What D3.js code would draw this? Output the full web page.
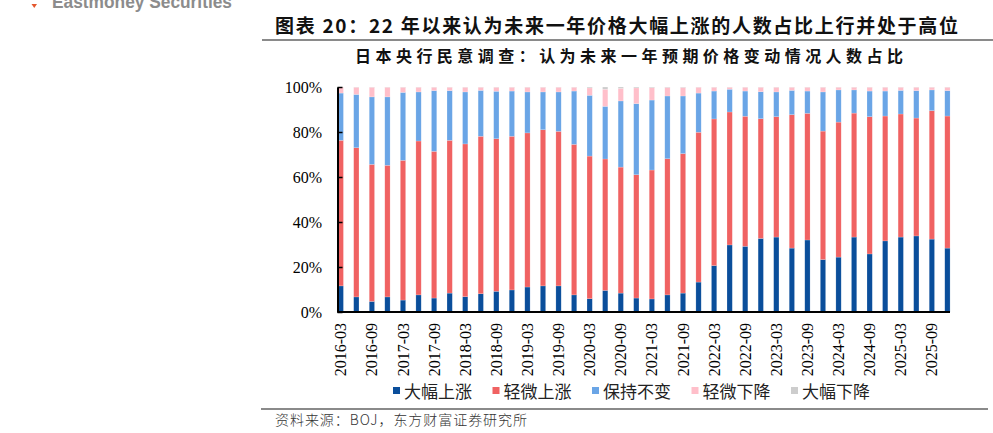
<!DOCTYPE html>
<html>
<head>
<meta charset="utf-8">
<script src="https://cdn.jsdelivr.net/npm/d3@7"></script>
<style>
  body { margin: 0; background: #fff; }
  svg { display: block; }
</style>
</head>
<body>
<div id="chart"></div>
<script>
const quarters = [
  "2016-03", "2016-06", "2016-09", "2016-12", "2017-03", "2017-06", "2017-09", "2017-12",
  "2018-03", "2018-06", "2018-09", "2018-12", "2019-03", "2019-06", "2019-09", "2019-12",
  "2020-03", "2020-06", "2020-09", "2020-12", "2021-03", "2021-06", "2021-09", "2021-12",
  "2022-03", "2022-06", "2022-09", "2022-12", "2023-03", "2023-06", "2023-09", "2023-12",
  "2024-03", "2024-06", "2024-09", "2024-12", "2025-03", "2025-06", "2025-09", "2025-12",
];
// 大幅上涨
const bigUp = [
  11.6, 6.7, 4.7, 6.7, 5.3, 7.6, 6.2, 8.4, 6.8, 8.1, 9.2, 9.8, 11.1, 11.6, 11.6, 7.6,
  5.9, 9.6, 8.4, 6.2, 5.8, 7.6, 8.4, 13.3, 20.6, 29.8, 29.2, 32.7, 33.3, 28.4, 32.0, 23.3,
  24.4, 33.3, 25.8, 31.6, 33.3, 33.8, 32.4, 28.4,
];
// 轻微上涨
const slightUp = [
  64.7, 66.3, 60.9, 58.5, 62.1, 68.4, 65.2, 67.9, 67.9, 70.0, 67.8, 68.3, 68.5, 69.4, 68.7, 66.9,
  63.4, 58.4, 56.0, 54.8, 57.3, 60.5, 62.0, 66.6, 65.2, 59.1, 57.8, 53.2, 53.5, 59.3, 56.3, 57.1,
  60.0, 55.1, 61.0, 55.5, 54.7, 52.4, 57.1, 58.7,
];
// 保持不变
const flat = [
  21.0, 23.7, 30.0, 30.4, 30.2, 21.8, 27.0, 22.1, 23.1, 20.4, 21.1, 20.1, 18.2, 16.8, 17.5, 23.7,
  27.0, 23.4, 29.4, 31.6, 31.1, 27.9, 25.6, 17.4, 12.4, 10.1, 11.2, 12.0, 11.0, 10.8, 9.9, 17.4,
  14.3, 10.3, 11.4, 11.1, 10.5, 12.2, 9.2, 11.3,
];
// 轻微下降
const slightDown = [
  2.6, 3.2, 4.3, 4.3, 2.3, 2.1, 1.5, 1.5, 2.1, 1.4, 1.8, 1.7, 2.1, 2.1, 2.1, 1.7,
  3.3, 7.6, 5.6, 7.0, 5.5, 3.8, 3.8, 2.6, 1.7, 0.9, 1.7, 2.0, 2.1, 1.4, 1.7, 2.1,
  1.2, 1.2, 1.7, 1.7, 1.4, 1.5, 1.2, 1.5,
];
// 大幅下降
const bigDown = [
  0.1, 0.1, 0.1, 0.1, 0.1, 0.1, 0.1, 0.1, 0.1, 0.1, 0.1, 0.1, 0.1, 0.1, 0.1, 0.1,
  0.4, 1.0, 0.6, 0.4, 0.3, 0.2, 0.2, 0.1, 0.1, 0.1, 0.1, 0.1, 0.1, 0.1, 0.1, 0.1,
  0.1, 0.1, 0.1, 0.1, 0.1, 0.1, 0.1, 0.1,
];
const seriesNames = ["大幅上涨", "轻微上涨", "保持不变", "轻微下降", "大幅下降"];
const yTicks = [0, 20, 40, 60, 80, 100];

const colors = ["#0A4E9B", "#F06262", "#6AA5E6", "#FFBFCA", "#CDCDCD"];
const w = 993;
const h = 433;
const plotLeft = 337.5;
const plotRight = 950;
const plotTop = 87;
const plotBottom = 312;

const cjk = "'Noto Sans CJK SC', 'Noto Sans', sans-serif";
const serif = "'Liberation Serif', 'DejaVu Serif', serif";

const svg = d3
  .select("#chart")
  .append("svg")
  .attr("width", w)
  .attr("height", h);

// header: cut-off watermark, title, rule, subtitle
svg
  .append("path")
  .attr("d", "M31.5,4 L37,4 L34.25,8 Z")
  .style("fill", "#E4572E");
svg
  .append("text")
  .attr("x", 52)
  .attr("y", 8)
  .attr("textLength", 180)
  .attr("lengthAdjust", "spacingAndGlyphs")
  .style("font-family", "'Liberation Sans', Arial, sans-serif")
  .style("font-weight", "bold")
  .style("font-size", "19px")
  .style("fill", "#8C8C8C")
  .text("Eastmoney Securities");
svg
  .append("text")
  .attr("x", 275)
  .attr("y", 33)
  .attr("textLength", 683)
  .attr("lengthAdjust", "spacing")
  .style("font-family", cjk)
  .style("font-weight", "bold")
  .style("font-size", "19px")
  .style("fill", "#111")
  .text("图表 20：22 年以来认为未来一年价格大幅上涨的人数占比上行并处于高位");
svg
  .append("line")
  .attr("x1", 262)
  .attr("x2", w)
  .attr("y1", 40)
  .attr("y2", 40)
  .style("stroke", "#8A8A8A")
  .style("stroke-width", 2);
svg
  .append("text")
  .attr("x", 355)
  .attr("y", 62)
  .attr("textLength", 548)
  .attr("lengthAdjust", "spacing")
  .style("font-family", cjk)
  .style("font-weight", "bold")
  .style("font-size", "16px")
  .style("fill", "#111")
  .text("日本央行民意调查：认为未来一年预期价格变动情况人数占比");

// scales
const xScale = d3
  .scaleBand()
  .domain(quarters)
  .range([333, 955.2])
  .paddingInner(0.66)
  .paddingOuter(0.33);
const yScale = d3.scaleLinear().domain([0, 100]).range([plotBottom, plotTop]);

const table = quarters.map((q, i) => ({
  q: q,
  "大幅上涨": bigUp[i],
  "轻微上涨": slightUp[i],
  "保持不变": flat[i],
  "轻微下降": slightDown[i],
  "大幅下降": bigDown[i],
}));
const stacked = d3.stack().keys(seriesNames)(table);

svg
  .append("g")
  .selectAll("g")
  .data(stacked)
  .enter()
  .append("g")
  .style("fill", (d, i) => colors[i])
  .selectAll("rect")
  .data((d) => d)
  .enter()
  .append("rect")
  .attr("x", (d) => xScale(d.data.q))
  .attr("width", xScale.bandwidth())
  .attr("y", (d) => yScale(d[1]))
  .attr("height", (d) => yScale(d[0]) - yScale(d[1]))
  .style("stroke", "rgba(255,255,255,0.35)")
  .style("stroke-width", 0.5);

// y axis
const y = d3
  .axisLeft(yScale)
  .tickValues(yTicks)
  .tickSizeInner(-5)
  .tickSizeOuter(0)
  .tickPadding(15.5)
  .tickFormat((d) => d + "%");
const yAxis = svg
  .append("g")
  .attr("transform", `translate(${plotLeft},0)`)
  .call(y);
yAxis.select(".domain").style("stroke", "#000").style("stroke-width", 2);
yAxis.selectAll(".tick line").style("stroke", "#000").style("stroke-width", 1.5);
yAxis
  .selectAll("text")
  .style("font-family", serif)
  .style("font-size", "16px")
  .style("fill", "#000");

// x axis
const x = d3
  .axisBottom(xScale)
  .tickValues(quarters.filter((d, i) => i % 2 === 0))
  .tickSize(0)
  .tickPadding(0);
const xAxis = svg
  .append("g")
  .attr("transform", `translate(0,${plotBottom})`)
  .call(x);
xAxis.select(".domain").remove();
xAxis
  .selectAll("text")
  .attr("transform", "rotate(-90)")
  .attr("x", -11)
  .attr("y", 0)
  .attr("dy", "0.35em")
  .style("text-anchor", "end")
  .style("font-family", serif)
  .style("font-size", "16px")
  .style("fill", "#000");
svg
  .append("line")
  .attr("x1", plotLeft)
  .attr("x2", plotRight)
  .attr("y1", plotBottom)
  .attr("y2", plotBottom)
  .style("stroke", "#000")
  .style("stroke-width", 2);

// legend
const legend = svg
  .append("g")
  .selectAll("g")
  .data(seriesNames)
  .enter()
  .append("g")
  .attr("transform", (d, i) => `translate(${393 + 99.5 * i},0)`);
legend
  .append("rect")
  .attr("x", 0)
  .attr("y", 387)
  .attr("width", 7)
  .attr("height", 7)
  .style("fill", (d, i) => colors[i]);
legend
  .append("text")
  .attr("x", 11)
  .attr("y", 398)
  .style("font-family", cjk)
  .style("font-size", "17px")
  .style("fill", "#222")
  .text((d) => d);

// footer
svg
  .append("line")
  .attr("x1", 261)
  .attr("x2", 988)
  .attr("y1", 409)
  .attr("y2", 409)
  .style("stroke", "#8A8A8A")
  .style("stroke-width", 2);
svg
  .append("text")
  .attr("x", 275)
  .attr("y", 425)
  .attr("textLength", 252)
  .attr("lengthAdjust", "spacing")
  .style("font-family", cjk)
  .style("font-weight", 300)
  .style("font-size", "14px")
  .style("fill", "#333")
  .text("资料来源：BOJ，东方财富证券研究所");
</script>
</body>
</html>
